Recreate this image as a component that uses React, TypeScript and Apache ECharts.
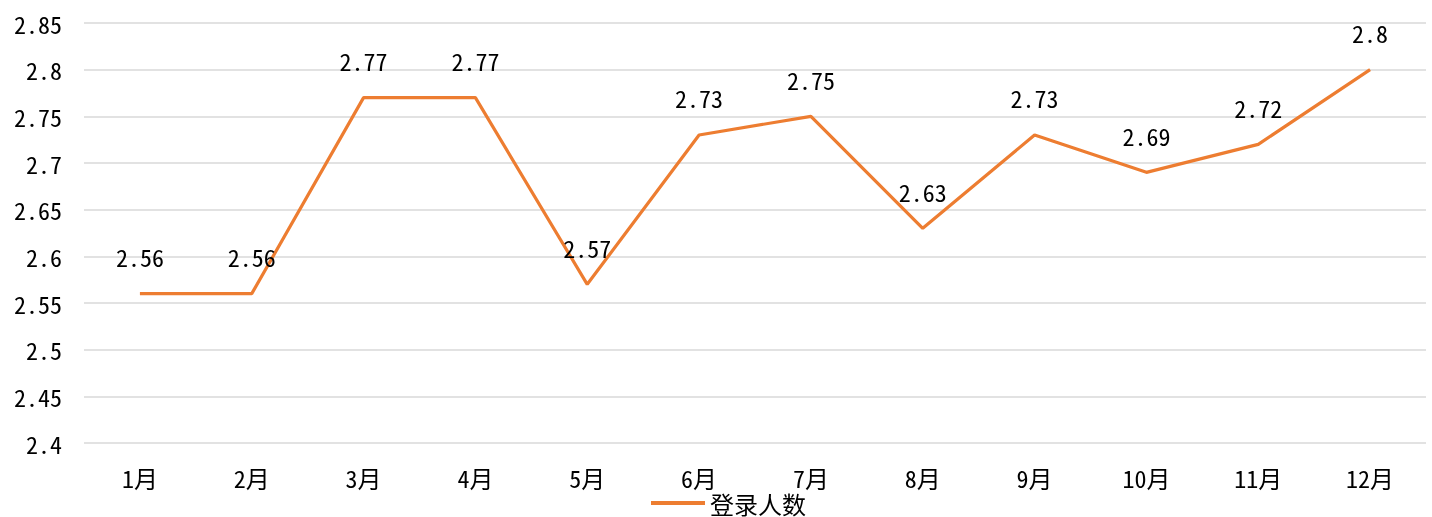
import React, { useEffect, useRef } from "react";
import * as echarts from "echarts";

const categories = ["1月", "2月", "3月", "4月", "5月", "6月", "7月", "8月", "9月", "10月", "11月", "12月"];
const seriesName = "登录人数";
const values = [2.56, 2.56, 2.77, 2.77, 2.57, 2.73, 2.75, 2.63, 2.73, 2.69, 2.72, 2.8];
const yMin = 2.4;
const yMax = 2.85;
const yInterval = 0.05;

const FONT = "'Noto Sans Mono CJK SC', 'Noto Sans CJK SC', 'DejaVu Sans Mono', monospace";

export default function App() {
  const ref = useRef<HTMLDivElement>(null);
  useEffect(() => {
    if (!ref.current) return;
    const chart = echarts.init(ref.current, undefined, { renderer: "svg" });
    chart.setOption({
      animation: false,
      textStyle: { fontFamily: FONT },
      grid: { left: 84, right: 6, top: 23, bottom: 74, containLabel: false },
      legend: {
        bottom: 0,
        left: 646,
        padding: [5, 5, 2, 5],
        data: [seriesName],
        itemWidth: 54,
        itemHeight: 4,
        itemGap: 10,
        icon: "rect",
        textStyle: { fontSize: 24, color: "#000", fontFamily: FONT },
      },
      xAxis: {
        type: "category",
        data: categories,
        boundaryGap: true,
        axisLine: { show: false },
        axisTick: { show: false },
        axisLabel: { fontSize: 24, color: "#000", margin: 22, fontFamily: FONT },
      },
      yAxis: {
        type: "value",
        min: yMin,
        max: yMax,
        interval: yInterval,
        axisLine: { show: false },
        axisTick: { show: false },
        splitLine: { lineStyle: { color: "#d9d9d9", width: 1.5 } },
        axisLabel: {
          fontSize: 24,
          color: "#000",
          margin: 22,
          fontFamily: FONT,
          formatter: (v: number) => String(parseFloat(v.toFixed(2))),
        },
      },
      series: [
        {
          name: seriesName,
          type: "line",
          data: values,
          symbol: "circle",
          symbolSize: 0.1,
          showSymbol: true,
          lineStyle: { color: "#ED7D31", width: 3.2 },
          itemStyle: { color: "#ED7D31" },
          label: {
            show: true,
            position: "top",
            distance: 25,
            fontSize: 24,
            color: "#000",
            fontFamily: FONT,
          },
          z: 2,
        },
      ],
    });
    return () => chart.dispose();
  }, []);
  return (
    <div
      ref={ref}
      style={{ position: "fixed", left: 0, top: 0, width: 1432, height: 517, overflow: "hidden" }}
    />
  );
}
